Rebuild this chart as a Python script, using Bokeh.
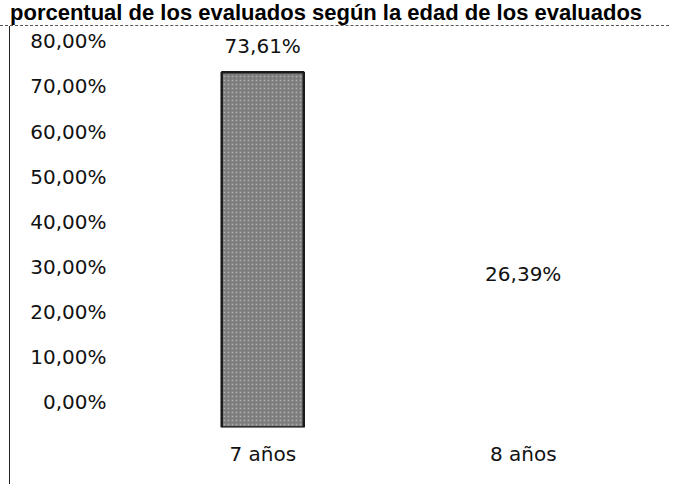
from bokeh.plotting import figure
from bokeh.layouts import column
from bokeh.models import (FactorRange, Range1d, LinearAxis, FixedTicker, LabelSet,
                          ColumnDataSource, Div)
from bokeh.core.properties import value
from bokeh.embed import file_html
from bokeh.resources import INLINE

# ---- data ----
categories = ["7 años", "8 años"]
values = [0.7361, 0.2639]
value_labels = ["73,61%", "26,39%"]
bar_colors = ["#7c7c7c", "#ffffff"]
bar_lines = ["#1a1a1a", None]
bar_hatch = ["#c8c8c8", "#ffffff"]
tick_values = [0, 0.1, 0.2, 0.3, 0.4, 0.5, 0.6, 0.7, 0.8]
tick_labels = ["0,00%", "10,00%", "20,00%", "30,00%", "40,00%",
               "50,00%", "60,00%", "70,00%", "80,00%"]
title_text = "porcentual de los evaluados según la edad de los evaluados"

FONT = "DejaVu Sans"

# ---- title strip ----
title = Div(text=('<div style="font-family:\'Liberation Sans\',Arial,sans-serif;'
                  'font-weight:bold;font-size:22px;line-height:25px;'
                  'padding-left:10px;white-space:nowrap;color:#000000">'
                  + title_text + '</div>'),
            width=669, height=26, margin=0,
            styles={"border-bottom": "1px dashed #555555", "box-sizing": "border-box"})

# ---- main chart ----
src = ColumnDataSource(dict(cat=categories, val=values, lab=value_labels,
                            fill=bar_colors, line=bar_lines, hatch=bar_hatch))

p = figure(width=659, height=458, output_backend="svg", toolbar_location=None,
           x_range=FactorRange(*categories, range_padding=0),
           y_range=Range1d(0, 0.8307),
           y_axis_location=None,
           min_border_left=122, min_border_right=16, min_border_top=0,
           min_border_bottom=57,
           styles={"margin-left": "9px", "border-left": "1px solid #222222"})
p.outline_line_color = None
p.xgrid.visible = False
p.ygrid.visible = False

# axis with its own range (as scanned, tick labels sit slightly off the bar scale)
p.extra_y_ranges = {"ticks": Range1d(-0.0561, 0.8330)}
yax = LinearAxis(y_range_name="ticks", ticker=FixedTicker(ticks=tick_values),
                 major_label_overrides={v: l for v, l in zip(tick_values, tick_labels)})
yax.axis_line_color = None
yax.major_tick_line_color = None
yax.minor_tick_line_color = None
yax.major_tick_out = 0
yax.major_label_standoff = 26
yax.major_label_text_font = FONT
yax.major_label_text_font_size = "20px"
yax.major_label_text_color = "#111111"
p.add_layout(yax, "left")

xax = p.xaxis[0]
xax.axis_line_color = None
xax.major_tick_line_color = None
xax.minor_tick_line_color = None
xax.major_tick_out = 0
xax.major_label_standoff = 14
xax.major_label_text_font = FONT
xax.major_label_text_font_size = "20px"
xax.major_label_text_color = "#111111"

p.vbar(x="cat", top="val", width=0.315, source=src, fill_color="fill",
       line_color="line", line_width=2.5,
       hatch_pattern="dot", hatch_color="hatch", hatch_scale=4, hatch_alpha=0.6)

labels = LabelSet(x="cat", y="val", text="lab", source=src, y_offset=19,
                  text_align="center", text_baseline="alphabetic",
                  text_font=value(FONT), text_font_size=value("20px"),
                  text_color="#111111")
p.add_layout(labels)

layout = column(title, p, spacing=0)
open("out.html", "w").write(file_html(layout, INLINE))
